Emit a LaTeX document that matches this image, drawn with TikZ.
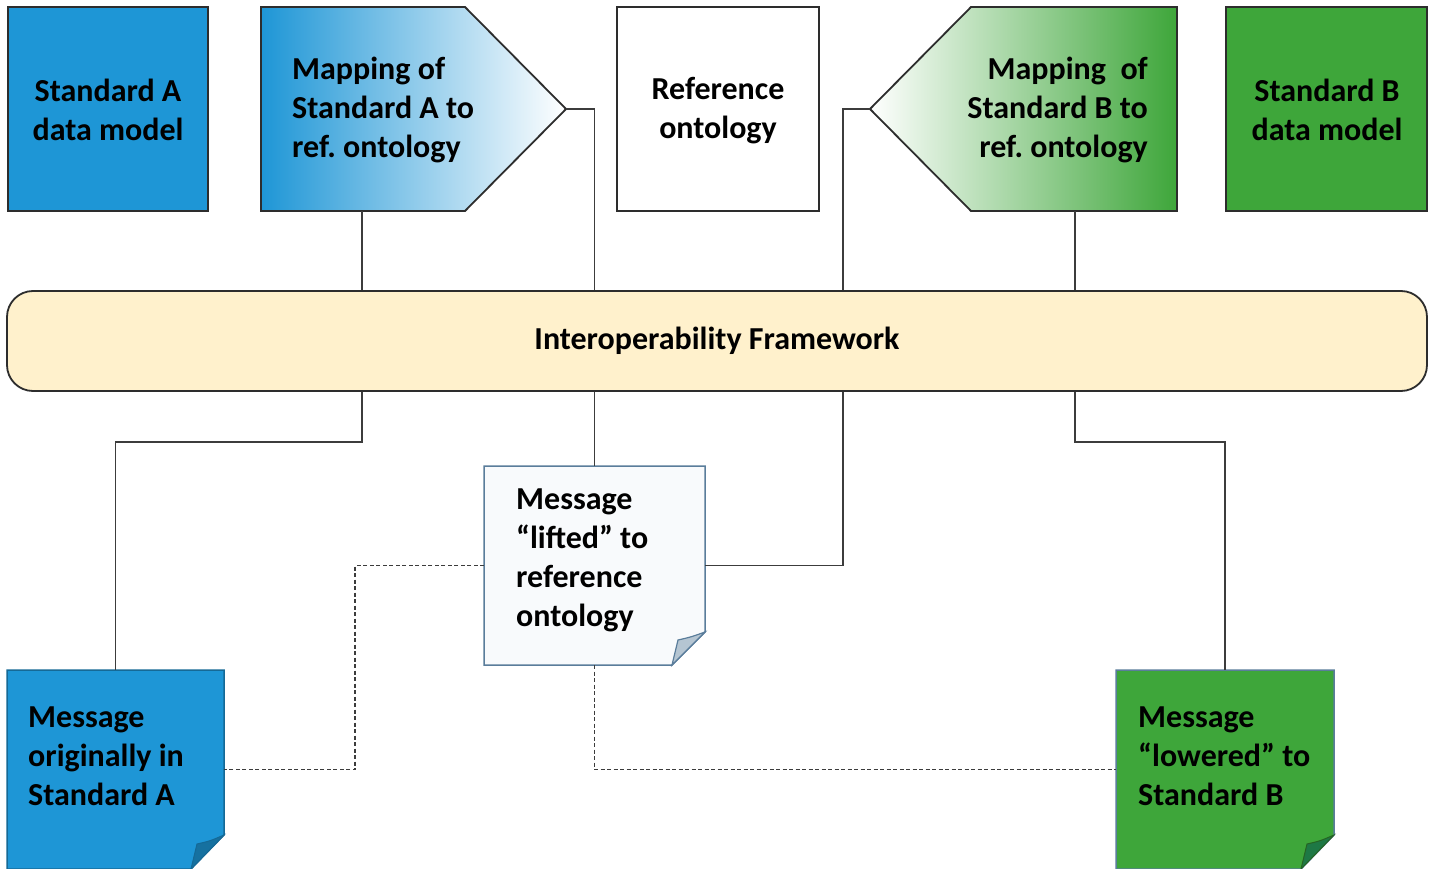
\documentclass[tikz,border=0pt]{standalone}
\usepackage{fontspec}
\setmainfont{Carlito}
\usetikzlibrary{calc}
\frenchspacing
\definecolor{blueA}{RGB}{30,150,214}
\definecolor{greenB}{RGB}{62,166,58}
\definecolor{fwfill}{RGB}{255,241,204}
\definecolor{bord}{RGB}{45,45,45}
\definecolor{liftfill}{RGB}{248,250,252}
\definecolor{liftbord}{RGB}{90,125,155}
\definecolor{conncol}{RGB}{60,60,60}
\tikzset{
  boxed/.style={draw=bord, line width=1.8pt},
  txt/.style={font=\bfseries\fontsize{32}{39}\selectfont, inner sep=0pt, text=black},
  conn/.style={draw=conncol, line width=1.2pt},
  dconn/.style={draw=conncol, line width=1.3pt, dash pattern=on 4pt off 2.5pt},
}
\begin{document}
\begin{tikzpicture}[x=1pt,y=-1pt]
\useasboundingbox[fill=white] (0,0) rectangle (1436,869);

% top row
\node[boxed, fill=blueA, minimum width=200pt, minimum height=204pt, inner sep=0pt] (stdA) at (108,109) {};
\node[txt, align=center] (stdAt) at (108,110) {Standard A\\data model};

\shade[boxed, left color=blueA, middle color=blueA!22, right color=white]
  (261,7) -- (465,7) -- (566,109) -- (465,211) -- (261,211) -- cycle;
\coordinate (tipA) at (566,109);
\coordinate (mapAbot) at (362,211);
\node[txt, align=left, anchor=west] (mapA) at (292,110) {Mapping of\\Standard A to\\ref. ontology};

\node[boxed, fill=white, minimum width=202pt, minimum height=204pt, inner sep=0pt] (ref) at (718,109) {};
\node[txt, align=center] (reft) at (718,111) {Reference\\ontology};

\shade[boxed, left color=white, middle color=greenB!25, right color=greenB]
  (1177,7) -- (971,7) -- (870,109) -- (971,211) -- (1177,211) -- cycle;
\coordinate (tipB) at (870,109);
\coordinate (mapBbot) at (1075,211);
\node[txt, align=right, anchor=east] (mapB) at (1148,110) {Mapping\ \ of\\Standard B to\\ref. ontology};

\node[boxed, fill=greenB, minimum width=201pt, minimum height=204pt, inner sep=0pt] (stdB) at (1326.5,109) {};
\node[txt, align=center] (stdBt) at (1327,110) {Standard B\\data model};

% framework
\node[boxed, fill=fwfill, rounded corners=26pt, minimum width=1420pt, minimum height=100pt, inner sep=0pt, txt] (fw) at (717,341) {Interoperability Framework};

% lifted message
\node[minimum width=221pt, minimum height=199pt, inner sep=0pt, outer sep=0pt] (lift) at (594.5,565.5) {};
\draw[draw=liftbord, line width=1.5pt, fill=liftfill]
  (lift.north west) -- (lift.north east) -- ($(lift.south east)+(0,-33)$) -- ($(lift.south east)+(-33,0)$) -- (lift.south west) -- cycle;
\filldraw[draw=liftbord, line width=1.2pt, fill=liftbord!45]
  ($(lift.south east)+(0,-33)$) .. controls ($(lift.south east)+(-14,-28)$) .. ($(lift.south east)+(-27,-25)$) -- ($(lift.south east)+(-33,0)$) -- cycle;
\node[txt, align=left, anchor=west] (liftt) at (516,560) {Message\\\textquotedblleft lifted\textquotedblright{} to\\reference\\ontology};

% message A
\node[minimum width=217pt, minimum height=199pt, inner sep=0pt, outer sep=0pt] (msgA) at (115.5,769.5) {};
\draw[draw=blueA!70!black, line width=1.5pt, fill=blueA]
  (msgA.north west) -- (msgA.north east) -- ($(msgA.south east)+(0,-34)$) -- ($(msgA.south east)+(-33,0)$) -- (msgA.south west) -- cycle;
\filldraw[draw=blueA!70!black, line width=1pt, fill=blueA!75!black]
  ($(msgA.south east)+(0,-34)$) .. controls ($(msgA.south east)+(-14,-28)$) .. ($(msgA.south east)+(-27,-25)$) -- ($(msgA.south east)+(-33,0)$) -- cycle;
\node[txt, align=left, anchor=west] (msgAt) at (28,756) {Message\\originally in\\Standard A};

% message B
\node[minimum width=218pt, minimum height=199pt, inner sep=0pt, outer sep=0pt] (msgB) at (1225,769.5) {};
\draw[draw=liftbord, line width=1.5pt, fill=greenB]
  (msgB.north west) -- (msgB.north east) -- ($(msgB.south east)+(0,-34)$) -- ($(msgB.south east)+(-33,0)$) -- (msgB.south west) -- cycle;
\filldraw[draw=greenB!60!black, line width=1pt, fill=greenB!60!teal!80!black]
  ($(msgB.south east)+(0,-34)$) .. controls ($(msgB.south east)+(-14,-28)$) .. ($(msgB.south east)+(-27,-25)$) -- ($(msgB.south east)+(-33,0)$) -- cycle;
\node[txt, align=left, anchor=west] (msgBt) at (1138,756) {Message\\\textquotedblleft lowered\textquotedblright{} to\\Standard B};

% connectors above framework
\draw[conn] (mapAbot) -- (mapAbot |- fw.north);
\draw[conn] (tipA) -| (lift.north |- fw.north);
\coordinate (colB) at (843,109);
\draw[conn] (tipB) -- (colB) -- (colB |- fw.north);
\draw[conn] (mapBbot) -- (mapBbot |- fw.north);

% connectors below framework
\draw[conn] (mapAbot |- fw.south) -- ++(0,50) -| (msgA.north);
\draw[conn] (lift.north |- fw.south) -- (lift.north);
\draw[conn] (colB |- fw.south) |- (lift.east);
\draw[conn] (mapBbot |- fw.south) -- ++(0,50) -| (msgB.north);

% dashed
\draw[dconn] (lift.west) -- ++(-129,0) |- (msgA.east);
\draw[dconn] (lift.south) |- (msgB.west);
\end{tikzpicture}
\end{document}
